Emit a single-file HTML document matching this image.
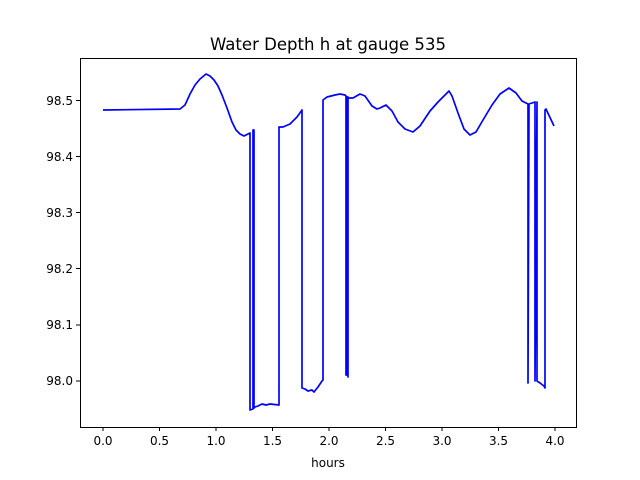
<!DOCTYPE html>
<html><head><meta charset="utf-8"><style>body{margin:0;background:#fff}svg{display:block}text{font-family:"DejaVu Sans","Liberation Sans",sans-serif;fill:#000}</style></head>
<body>
<svg width="640" height="480" viewBox="0 0 640 480">
<rect width="640" height="480" fill="#fff"/>
<text x="328" y="50" font-size="16.5" text-anchor="middle" textLength="236" lengthAdjust="spacingAndGlyphs">Water Depth h at gauge 535</text>
<polyline fill="none" stroke="#0000ff" stroke-width="1.7" stroke-linejoin="round" points="103,110 180,109 185,105 190,94 195,85 200,79 206,74 210,76 214,80 218,86 222,95 227,108 232,122 236,130 240,134 244,136 250,133 250,410 253,409 253,130 254,130 254,408 255,407 258,406 262,404 266,405 270,404 279,405 279,127 283,127 290,124 297,117 302,110 302,388 305,389 308,391 312,390 314,392 318,387 322,381 323,380 323,100 327,97 335,95 340,94 345,95 346,96 346,375 347,375 347,97 348,97 348,377 348,98 353,98 360,94 365,96 372,106 377,109 380,108 386,105 392,111 398,122 405,129 413,132 420,126 430,111 438,102 444,96 449,91 452,96 458,113 464,129 470,135 476,132 483,120 492,105 500,94 509,88 516,93 522,101 528,104 528,383 529,104 535,102 535,381 537,102 537,381 540,383 544,386 545,388 545,110 546,109 554,126"/>
<rect x="80.5" y="58.5" width="496" height="369" fill="none" stroke="#000" stroke-width="1"/>
<g stroke="#000" stroke-width="1">
<line x1="103" y1="427" x2="103" y2="431"/><line x1="159.5" y1="427" x2="159.5" y2="431"/><line x1="216" y1="427" x2="216" y2="431"/><line x1="272.5" y1="427" x2="272.5" y2="431"/><line x1="329" y1="427" x2="329" y2="431"/><line x1="385.5" y1="427" x2="385.5" y2="431"/><line x1="442" y1="427" x2="442" y2="431"/><line x1="498.5" y1="427" x2="498.5" y2="431"/><line x1="555" y1="427" x2="555" y2="431"/>
<line x1="76" y1="100.5" x2="80" y2="100.5"/><line x1="76" y1="156.5" x2="80" y2="156.5"/><line x1="76" y1="212.5" x2="80" y2="212.5"/><line x1="76" y1="268.5" x2="80" y2="268.5"/><line x1="76" y1="325" x2="80" y2="325"/><line x1="76" y1="381" x2="80" y2="381"/>
</g>
<g font-size="12" text-anchor="middle">
<text x="103" y="445">0.0</text><text x="159.5" y="445">0.5</text><text x="216" y="445">1.0</text><text x="272.5" y="445">1.5</text><text x="329" y="445">2.0</text><text x="385.5" y="445">2.5</text><text x="442" y="445">3.0</text><text x="498.5" y="445">3.5</text><text x="555" y="445">4.0</text>
<text x="328" y="467">hours</text>
</g>
<g font-size="12" text-anchor="end">
<text x="73" y="105">98.5</text><text x="73" y="161">98.4</text><text x="73" y="217">98.3</text><text x="73" y="273">98.2</text><text x="73" y="329">98.1</text><text x="73" y="385">98.0</text>
</g>
</svg>
</body></html>
